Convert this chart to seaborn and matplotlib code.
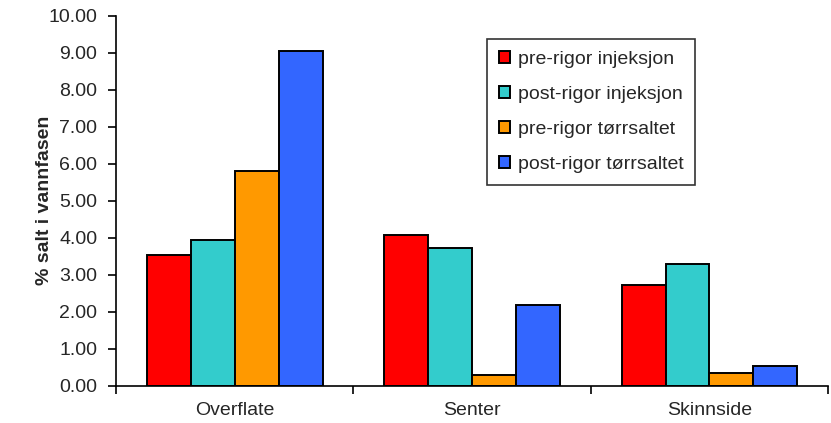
import pandas as pd
import matplotlib
matplotlib.use("Agg")
import matplotlib.pyplot as plt
import seaborn as sns
from matplotlib.ticker import FixedLocator, FormatStrFormatter

categories = ["Overflate", "Senter", "Skinnside"]
series = ["pre-rigor injeksjon", "post-rigor injeksjon", "pre-rigor tørrsaltet", "post-rigor tørrsaltet"]
pre_inj = [3.53, 4.08, 2.73]
post_inj = [3.93, 3.72, 3.28]
pre_torr = [5.81, 0.30, 0.35]
post_torr = [9.05, 2.19, 0.54]
colors = ["#FF0000", "#33CCCC", "#FF9900", "#3366FF"]

rows = []
for name, vals in zip(series, [pre_inj, post_inj, pre_torr, post_torr]):
    for cat, v in zip(categories, vals):
        rows.append({"kategori": cat, "serie": name, "verdi": v})
df = pd.DataFrame(rows)

sns.set_style("white")
plt.rcParams['font.family'] = ['Liberation Sans', 'DejaVu Sans']

fig = plt.figure(figsize=(8.31, 4.23), dpi=100)
ax = fig.add_axes([0.1396, 0.088, 0.857, 0.875])

sns.barplot(data=df, x="kategori", y="verdi", hue="serie", order=categories,
            hue_order=series, palette=colors, width=0.74, edgecolor="black",
            linewidth=1.4, saturation=1, ax=ax)

ax.set_xlim(-0.5, 2.5)
ax.set_ylim(0, 10)
ax.set_yticks([i for i in range(11)])
ax.yaxis.set_major_formatter(FormatStrFormatter("%.2f"))
ax.set_xlabel("")
ax.set_ylabel("% salt i vannfasen", fontsize=14, fontweight="bold")
ax.yaxis.set_label_coords(-0.0885, 0.5)

# category boundary ticks, labels centred between them
ax.xaxis.set_minor_locator(FixedLocator([-0.5, 0.5, 1.5, 2.5]))
ax.tick_params(axis="x", which="major", length=0, labelsize=14, pad=12)
ax.tick_params(axis="x", which="minor", length=6, width=1.2, color="black", direction="out")
ax.tick_params(axis="y", length=6, width=1.2, color="black", direction="out", labelsize=14, pad=7.5)
ax.tick_params(bottom=True, left=True, which="both")

sns.despine(ax=ax)
for s in ["left", "bottom"]:
    ax.spines[s].set_color("black")
    ax.spines[s].set_linewidth(1.2)

leg = ax.legend(loc="upper left", bbox_to_anchor=(487 / 831, 1 - 39 / 423),
                bbox_transform=fig.transFigure, frameon=True, fancybox=False,
                edgecolor="black", fontsize=14, handlelength=0.55, handleheight=0.55,
                labelspacing=0.92, handletextpad=0.4, borderpad=0.62, borderaxespad=0)
leg.get_frame().set_linewidth(1.2)
for h in leg.legend_handles:
    h.set_linewidth(1.4)

fig.savefig("out.png", dpi=100)
